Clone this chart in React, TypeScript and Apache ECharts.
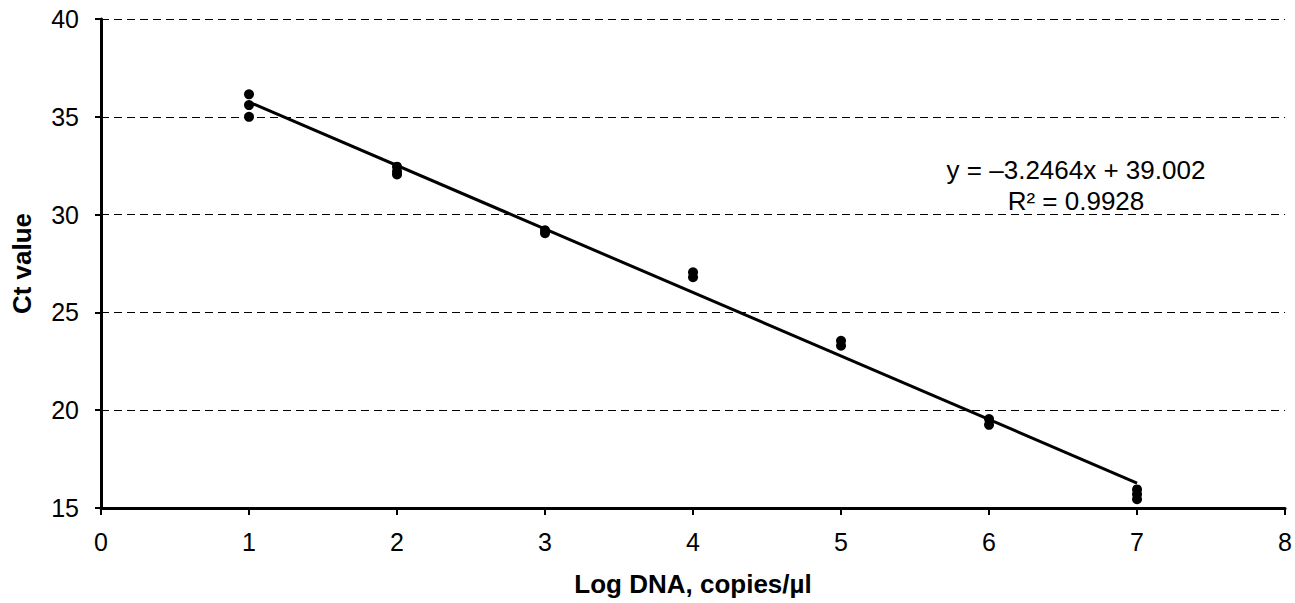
import React, { useEffect, useRef } from "react";
import * as echarts from "echarts";

const logDna = [1, 1, 1, 2, 2, 2, 3, 3, 4, 4, 5, 5, 6, 6, 7, 7, 7];
const ctValues = [36.15, 35.6, 35.0, 32.45, 32.2, 32.05, 29.2, 29.05, 27.05, 26.8, 23.55, 23.3, 19.55, 19.25, 15.95, 15.7, 15.45];
const slope = -3.2464;
const intercept = 39.002;
const rSquared = 0.9928;
const trendX = [1, 7];
const xTicks = [0, 1, 2, 3, 4, 5, 6, 7, 8];
const yTicks = [15, 20, 25, 30, 35, 40];

export default function App() {
  const ref = useRef<HTMLDivElement>(null);
  useEffect(() => {
    if (!ref.current) return;
    const chart = echarts.init(ref.current, null, { renderer: "svg" });
    const font = "Arial, 'Liberation Sans', sans-serif";
    chart.setOption({
      animation: false,
      backgroundColor: "#fff",
      grid: { left: 101, right: 8, top: 19, bottom: 95, containLabel: false },
      xAxis: {
        type: "value",
        min: xTicks[0],
        max: xTicks[xTicks.length - 1],
        interval: 1,
        name: "Log DNA, copies/µl",
        nameLocation: "middle",
        nameGap: 63,
        nameTextStyle: { fontFamily: font, fontSize: 26, fontWeight: "bold", color: "#000" },
        axisLine: { show: true, lineStyle: { color: "#000", width: 3 } },
        axisTick: { show: true, length: 7, inside: false, lineStyle: { color: "#000", width: 2 } },
        axisLabel: { fontFamily: font, fontSize: 25, color: "#000", margin: 21 },
        splitLine: { show: false },
      },
      yAxis: {
        type: "value",
        min: yTicks[0],
        max: yTicks[yTicks.length - 1],
        interval: 5,
        name: "Ct value",
        nameLocation: "middle",
        nameGap: 66,
        nameRotate: 90,
        nameTextStyle: { fontFamily: font, fontSize: 26, fontWeight: "bold", color: "#000" },
        axisLine: { show: true, onZero: false, lineStyle: { color: "#000", width: 3 } },
        axisTick: { show: true, length: 6, lineStyle: { color: "#000", width: 2 } },
        axisLabel: { fontFamily: font, fontSize: 25, color: "#000", margin: 22 },
        splitLine: { show: true, lineStyle: { color: "#000", width: 1, type: [8, 5] } },
      },
      series: [
        {
          type: "scatter",
          data: logDna.map((x, i) => [x, ctValues[i]]),
          symbol: "circle",
          symbolSize: 10,
          itemStyle: { color: "#000", opacity: 1 },
          z: 3,
        },
        {
          type: "line",
          data: trendX.map((x) => [x, slope * x + intercept]),
          symbol: "none",
          lineStyle: { color: "#000", width: 3 },
          z: 4,
        },
      ],
      graphic: [
        {
          type: "text",
          x: 1076,
          y: 170,
          style: {
            text: `y = –${Math.abs(slope).toFixed(4)}x + ${intercept.toFixed(3)}`,
            fontFamily: font,
            fontSize: 26,
            fill: "#000",
            align: "center",
            verticalAlign: "middle",
          },
        },
        {
          type: "text",
          x: 1076,
          y: 201,
          style: {
            text: `R² = ${rSquared.toFixed(4)}`,
            fontFamily: font,
            fontSize: 26,
            fill: "#000",
            align: "center",
            verticalAlign: "middle",
          },
        },
      ],
    });
    return () => chart.dispose();
  }, []);
  return (
    <div
      ref={ref}
      style={{ position: "fixed", left: 0, top: 0, width: 1295, height: 603, background: "#fff" }}
    />
  );
}
